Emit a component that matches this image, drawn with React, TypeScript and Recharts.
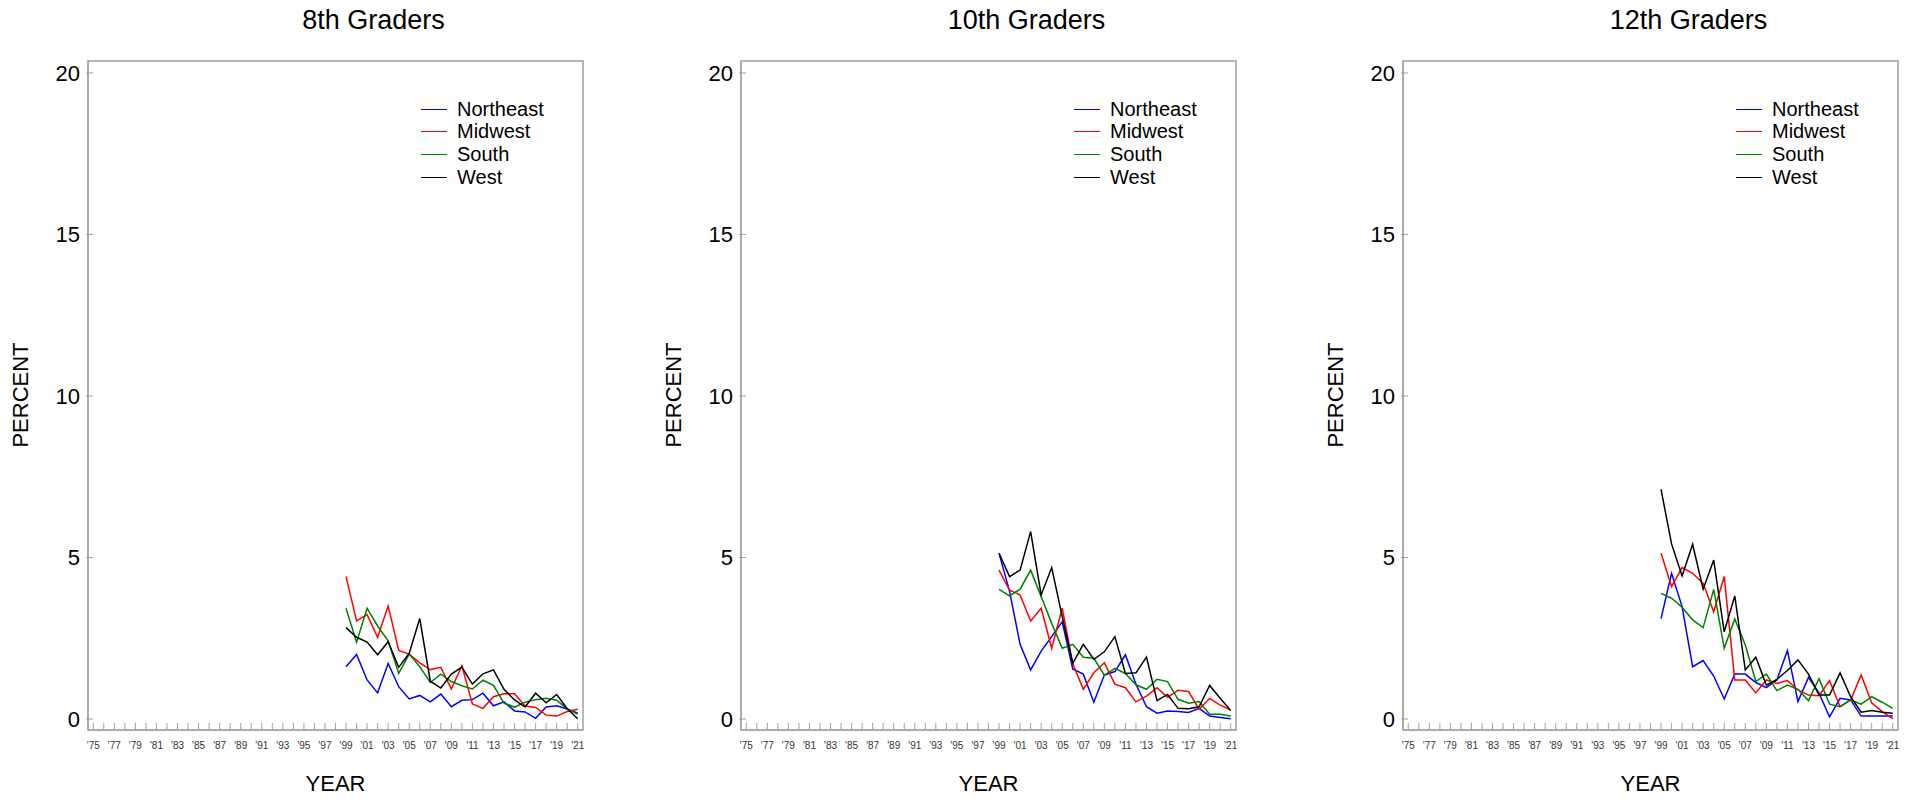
import React from "react";
import { LineChart, Line, XAxis, YAxis, ReferenceArea } from "recharts";

const years = [
  1999, 2000, 2001, 2002, 2003, 2004, 2005, 2006, 2007, 2008, 2009, 2010,
  2011, 2012, 2013, 2014, 2015, 2016, 2017, 2018, 2019, 2020, 2021,
];

const tickYears = [
  1975, 1976, 1977, 1978, 1979, 1980, 1981, 1982, 1983, 1984, 1985, 1986,
  1987, 1988, 1989, 1990, 1991, 1992, 1993, 1994, 1995, 1996, 1997, 1998,
  1999, 2000, 2001, 2002, 2003, 2004, 2005, 2006, 2007, 2008, 2009, 2010,
  2011, 2012, 2013, 2014, 2015, 2016, 2017, 2018, 2019, 2020, 2021,
];
const labelYears = [
  1975, 1977, 1979, 1981, 1983, 1985, 1987, 1989, 1991, 1993, 1995, 1997,
  1999, 2001, 2003, 2005, 2007, 2009, 2011, 2013, 2015, 2017, 2019, 2021,
];
const yTicks = [0, 5, 10, 15, 20];

// 8th grade
const ne8 = [1.62, 2.0, 1.21, 0.81, 1.72, 1.0, 0.62, 0.73, 0.53, 0.77, 0.38, 0.58, 0.6, 0.8, 0.41, 0.53, 0.25, 0.22, 0.02, 0.37, 0.41, 0.31, 0.18];
const mw8 = [4.41, 3.04, 3.23, 2.53, 3.5, 2.12, 2.01, 1.74, 1.53, 1.6, 0.93, 1.65, 0.47, 0.33, 0.69, 0.78, 0.78, 0.4, 0.36, 0.12, 0.09, 0.23, 0.3];
const so8 = [3.43, 2.38, 3.43, 2.88, 2.42, 1.41, 2.01, 1.62, 1.13, 1.39, 1.16, 1.03, 0.93, 1.2, 1.04, 0.49, 0.37, 0.52, 0.6, 0.64, 0.58, 0.31, 0.15];
const we8 = [2.83, 2.53, 2.38, 1.99, 2.39, 1.6, 2.04, 3.11, 1.17, 0.96, 1.39, 1.61, 1.08, 1.4, 1.52, 0.92, 0.59, 0.37, 0.8, 0.5, 0.76, 0.32, 0.01];

// 10th grade
const ne10 = [5.13, 3.95, 2.31, 1.52, 2.1, 2.55, 3.01, 1.55, 1.39, 0.52, 1.36, 1.47, 1.99, 1.08, 0.38, 0.18, 0.25, 0.23, 0.2, 0.33, 0.09, 0.05, 0.01];
const mw10 = [4.61, 3.99, 3.84, 3.03, 3.43, 2.19, 3.43, 1.72, 0.92, 1.43, 1.74, 1.08, 0.97, 0.53, 0.71, 0.97, 0.67, 0.89, 0.85, 0.3, 0.64, 0.43, 0.28];
const so10 = [4.01, 3.81, 4.02, 4.61, 3.79, 2.96, 2.19, 2.31, 1.91, 1.88, 1.36, 1.57, 1.41, 1.06, 0.92, 1.23, 1.16, 0.61, 0.49, 0.54, 0.15, 0.15, 0.09];
const we10 = [5.13, 4.41, 4.61, 5.8, 3.84, 4.69, 3.17, 1.72, 2.31, 1.85, 2.08, 2.55, 1.41, 1.43, 1.92, 0.57, 0.76, 0.33, 0.32, 0.38, 1.04, 0.64, 0.26];

// 12th grade
const ne12 = [3.11, 4.51, 3.48, 1.62, 1.81, 1.33, 0.62, 1.39, 1.39, 1.13, 0.97, 1.21, 2.12, 0.54, 1.29, 0.8, 0.07, 0.64, 0.59, 0.09, 0.09, 0.09, 0.09];
const mw12 = [5.13, 4.1, 4.69, 4.51, 4.2, 3.32, 4.41, 1.21, 1.21, 0.81, 1.21, 1.1, 1.19, 0.9, 0.74, 0.72, 1.19, 0.38, 0.59, 1.36, 0.5, 0.23, 0.01];
const so12 = [3.89, 3.74, 3.46, 3.07, 2.83, 4.01, 2.19, 3.1, 2.29, 1.16, 1.39, 0.88, 1.05, 0.92, 0.57, 1.25, 0.46, 0.38, 0.59, 0.46, 0.69, 0.52, 0.33];
const we12 = [7.11, 5.42, 4.43, 5.41, 4.02, 4.92, 2.7, 3.81, 1.52, 1.91, 1.05, 1.23, 1.5, 1.83, 1.39, 0.74, 0.74, 1.43, 0.69, 0.21, 0.26, 0.21, 0.18];

const regions = ["Northeast", "Midwest", "South", "West"];
const colors = ["#0000ff", "#ff0000", "#008000", "#000000"];

const panels = [
  { title: "8th Graders", left: 88, series: [ne8, mw8, so8, we8] },
  { title: "10th Graders", left: 741, series: [ne10, mw10, so10, we10] },
  { title: "12th Graders", left: 1403, series: [ne12, mw12, so12, we12] },
];

const FONT = "'Liberation Sans', Arial, sans-serif";
const AXIS = "#a0a0a0";
const BOX_W = 495;
const Y_W = 88;
const TOP = 61;
const X_H = 71;

const XTick = (props: any) => {
  const { x, y, payload } = props;
  const yr = payload.value as number;
  const show = labelYears.includes(yr);
  return (
    <g>
      <line x1={x} y1={y} x2={x} y2={y - 7} stroke={AXIS} strokeWidth={1} />
      {show && (
        <text x={x} y={y + 19} textAnchor="middle" fontSize={10} fill="#333" fontFamily={FONT}>
          {"'" + String(yr).slice(2)}
        </text>
      )}
    </g>
  );
};

const YTick = (props: any) => {
  const { x, y, payload } = props;
  return (
    <g>
      <line x1={x - 2} y1={y} x2={x + 5} y2={y} stroke={AXIS} strokeWidth={1} />
      <text x={x - 8} y={y} dy="0.35em" textAnchor="end" fontSize={22} fill="#000" fontFamily={FONT}>
        {payload.value}
      </text>
    </g>
  );
};

function Panel({ title, left, series }: { title: string; left: number; series: number[][] }) {
  const rows = years.map((year, i) => ({
    year,
    Northeast: series[0][i],
    Midwest: series[1][i],
    South: series[2][i],
    West: series[3][i],
  }));
  const chartLeft = left - Y_W;
  const boxCenter = left + BOX_W / 2;
  return (
    <>
      <div
        style={{
          position: "absolute",
          left: boxCenter + 38 - 150,
          width: 300,
          top: 5,
          textAlign: "center",
          fontFamily: FONT,
          fontSize: 27,
          color: "#000",
        }}
      >
        {title}
      </div>
      <div
        style={{
          position: "absolute",
          left: left - 67 - 60,
          top: 395 - 13,
          width: 120,
          height: 26,
          textAlign: "center",
          fontFamily: FONT,
          fontSize: 22,
          transform: "rotate(-90deg)",
        }}
      >
        PERCENT
      </div>
      <div
        style={{
          position: "absolute",
          left: boxCenter - 60,
          top: 771,
          width: 120,
          textAlign: "center",
          fontFamily: FONT,
          fontSize: 22,
        }}
      >
        YEAR
      </div>
      <div style={{ position: "absolute", left: chartLeft, top: 0 }}>
        <LineChart
          width={Y_W + BOX_W + 10}
          height={801}
          data={rows}
          margin={{ top: TOP, right: 10, bottom: 0, left: 0 }}
        >
          <XAxis
            dataKey="year"
            type="number"
            domain={[1974.5, 2021.5]}
            ticks={tickYears}
            interval={0}
            height={X_H}
            tickSize={0}
            tickMargin={0}
            tickLine={false}
            axisLine={{ stroke: AXIS }}
            tick={<XTick />}
            allowDataOverflow
          />
          <YAxis
            type="number"
            domain={[-0.34, 20.37]}
            ticks={yTicks}
            width={Y_W}
            tickSize={0}
            tickMargin={0}
            tickLine={false}
            axisLine={{ stroke: AXIS }}
            tick={<YTick />}
            allowDataOverflow
          />
          <ReferenceArea
            x1={1974.5}
            x2={2021.5}
            y1={-0.34}
            y2={20.37}
            fill="none"
            fillOpacity={0}
            stroke={AXIS}
            strokeWidth={1.5}
            ifOverflow="visible"
          />
          {regions.map((r, i) => (
            <Line
              key={r}
              dataKey={r}
              type="linear"
              stroke={colors[i]}
              strokeWidth={1.5}
              dot={false}
              isAnimationActive={false}
            />
          ))}
        </LineChart>
      </div>
      <div style={{ position: "absolute", left: left + 333, top: 98, fontFamily: FONT, fontSize: 20 }}>
        {regions.map((r, i) => (
          <div key={r} style={{ display: "flex", alignItems: "center", height: 22.6 }}>
            <div style={{ width: 26, height: 0, borderTop: `1.5px solid ${colors[i]}`, marginRight: 10 }} />
            <span>{r}</span>
          </div>
        ))}
      </div>
    </>
  );
}

export default function App() {
  return (
    <div
      style={{
        position: "absolute",
        left: 0,
        top: 0,
        width: 1913,
        height: 801,
        background: "#fff",
        overflow: "hidden",
      }}
    >
      {panels.map((p) => (
        <Panel key={p.title} title={p.title} left={p.left} series={p.series} />
      ))}
    </div>
  );
}
